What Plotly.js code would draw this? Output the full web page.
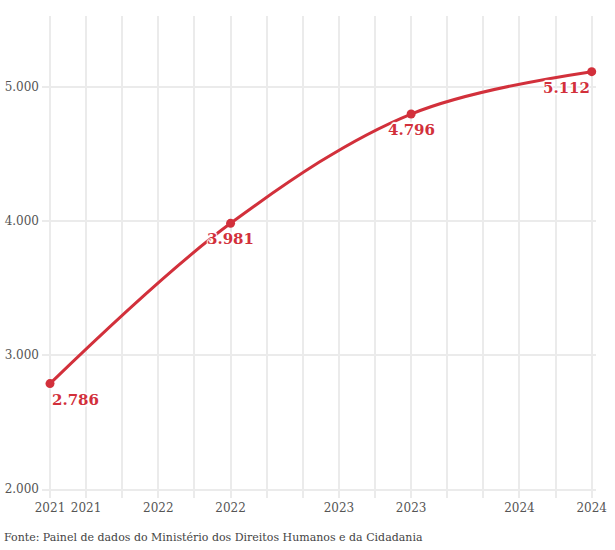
<!DOCTYPE html>
<html>
<head>
<meta charset="utf-8">
<script src="https://cdn.plot.ly/plotly-3.0.1.min.js"></script>
<style>html,body{margin:0;padding:0;background:#fff}#chart{width:615px;height:550px}</style>
</head>
<body>
<div id="chart"></div>
<script>
// Data
const years = ["2021", "2022", "2023", "2024"];
const values = [2786, 3981, 4796, 5112];
const valueLabels = ["2.786", "3.981", "4.796", "5.112"];
const labelAnchors = ["left", "center", "center", "right"];
const xTickLabels = ["2021","2021","","2022","","2022","","","2023","","2023","","","2024","","2024"];
const yTickVals = [2000, 3000, 4000, 5000];
const yTickText = ["2.000", "3.000", "4.000", "5.000"];
const source = "Fonte: Painel de dados do Ministério dos Direitos Humanos e da Cidadania";

const red = "#d2303b";
const grid = "#ebebeb";
const serif = "DejaVu Serif, serif";
const halo = "1px 1px 1px #fff, -1px -1px 1px #fff, 1px -1px 1px #fff, -1px 1px 1px #fff, 0 2px 1px #fff, 0 -2px 1px #fff";

const xIdx = years.map((_, i) => i);
const tickStep = (years.length - 1) / (xTickLabels.length - 1);
const xTickVals = xTickLabels.map((_, i) => i * tickStep);

const trace = {
  x: xIdx,
  y: values,
  customdata: years,
  type: "scatter",
  mode: "lines+markers",
  line: {color: red, width: 3, shape: "spline", smoothing: 1},
  marker: {color: red, size: 9},
  cliponaxis: false,
  hoverinfo: "skip"
};

const valueAnnotations = values.map((v, i) => ({
  x: xIdx[i], y: v, xref: "x", yref: "y",
  text: valueLabels[i], showarrow: false,
  xanchor: labelAnchors[i], yanchor: "middle", yshift: -16,
  font: {family: serif, size: 15, color: red, weight: "bold", shadow: halo}
}));

const layout = {
  width: 615, height: 550,
  margin: {l: 42, r: 19, t: 16, b: 61},
  paper_bgcolor: "#fff", plot_bgcolor: "#fff",
  showlegend: false,
  font: {family: serif, color: "#555"},
  xaxis: {
    range: [-0.0443, 3.0238],
    tickvals: xTickVals, ticktext: xTickLabels,
    showgrid: true, gridcolor: grid, gridwidth: 2,
    ticks: "outside", ticklen: 7, tickcolor: grid, tickwidth: 2,
    showline: true, linecolor: grid, linewidth: 2,
    zeroline: false,
    tickfont: {family: serif, size: 12, color: "#555"}
  },
  yaxis: {
    range: [2000, 5527],
    tickvals: yTickVals, ticktext: yTickText,
    showgrid: true, gridcolor: grid, gridwidth: 2,
    ticks: "", zeroline: false, showline: false,
    ticklabelstandoff: 2,
    tickfont: {family: serif, size: 12, color: "#555"}
  },
  annotations: valueAnnotations.concat([{
    text: source, xref: "paper", yref: "paper",
    x: -40/554, y: -48/473, xanchor: "left", yanchor: "middle",
    showarrow: false,
    font: {family: serif, size: 11, color: "#444"}
  }])
};

Plotly.newPlot("chart", [trace], layout, {displayModeBar: false, staticPlot: true});
</script>
</body>
</html>
